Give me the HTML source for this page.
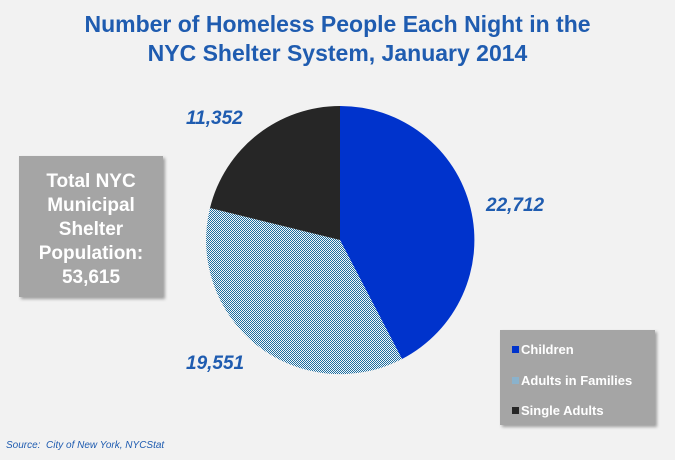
<!DOCTYPE html>
<html><head><style>
body{margin:0;width:675px;height:460px;background:#f2f2f2;font-family:"Liberation Sans",Arial,sans-serif;overflow:hidden;position:relative}
.t{position:absolute;left:0;width:675px;top:10px;text-align:center;font-weight:bold;font-size:23px;line-height:29px;color:#1f5cb0}
.box{position:absolute;background:#a5a5a5;box-shadow:2px 2px 3px rgba(0,0,0,.35);color:#fff;font-weight:bold}
.lbl{position:absolute;color:#1f5cb0;font-weight:bold;font-style:italic;font-size:19px}
.li{position:absolute;left:12px;font-size:13px}
.sw{display:inline-block;width:7px;height:7px;margin-right:2px;vertical-align:1px}
</style></head><body>
<div class="t">Number of Homeless People Each Night in the<br>NYC Shelter System, January 2014</div>
<svg width="675" height="460" style="position:absolute;left:0;top:0">
<defs><pattern id="h" width="2" height="2" patternUnits="userSpaceOnUse"><rect width="2" height="2" fill="#f4f8fa"/><rect width="1" height="1" fill="#1e6d9e"/><rect x="1" y="1" width="1" height="1" fill="#1e6d9e"/></pattern></defs>
<path d="M340 240L340 106A134 134 0 0 1 402 359Z" fill="#0033cc"/>
<path d="M340 240L402 359A134 134 0 0 1 210 208Z" fill="url(#h)"/>
<path d="M340 240L210 208A134 134 0 0 1 340 106Z" fill="#262626"/>
</svg>
<div class="box" style="left:19px;top:156px;width:144px;height:141px;text-align:center;font-size:19px;line-height:24px;padding-top:14px;box-sizing:border-box">Total NYC<br>Municipal<br>Shelter<br>Population:<br>53,615</div>
<div class="box" style="left:500px;top:330px;width:155px;height:95px">
<div class="li" style="top:12px"><span class="sw" style="background:#0033cc"></span>Children</div>
<div class="li" style="top:43px"><span class="sw" style="background:#8ab2cc"></span>Adults in Families</div>
<div class="li" style="top:73px"><span class="sw" style="background:#262626"></span>Single Adults</div>
</div>
<div class="lbl" style="left:186px;top:108px">11,352</div>
<div class="lbl" style="left:486px;top:195px">22,712</div>
<div class="lbl" style="left:186px;top:353px">19,551</div>
<div style="position:absolute;left:6px;top:440px;font-size:10px;font-style:italic;color:#1f5cb0">Source:&nbsp; City of New York, NYCStat</div>
</body></html>
